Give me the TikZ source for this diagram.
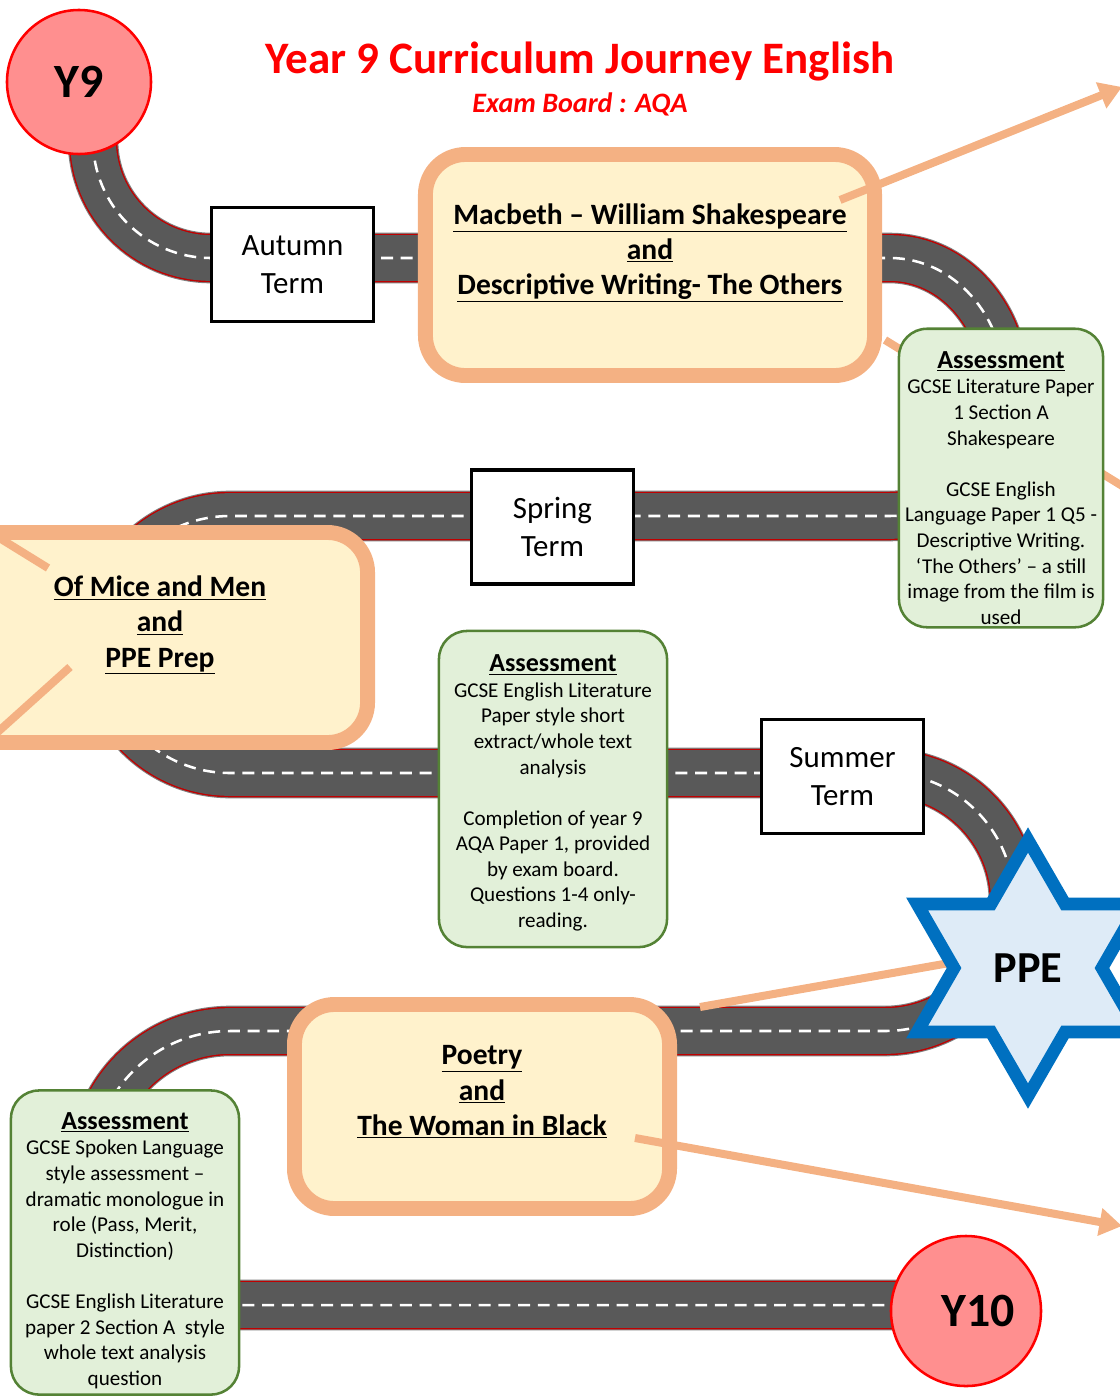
\documentclass[tikz,border=0pt]{standalone}
\usepackage{fontspec}
\setmainfont{Carlito}
\usetikzlibrary{arrows.meta,shapes.geometric}

\definecolor{roadgrey}{HTML}{595959}
\definecolor{roadred}{HTML}{C00000}
\definecolor{peach}{HTML}{F4B183}
\definecolor{cream}{HTML}{FFF2CC}
\definecolor{leafgreen}{HTML}{548235}
\definecolor{mint}{HTML}{E2F0D9}
\definecolor{ppeblue}{HTML}{0070C0}
\definecolor{ppesky}{HTML}{DEEBF7}
\definecolor{yearpink}{HTML}{FF8F8F}

% heading of an assessment box, #1 = strut height (moves the text down)
\newcommand{\assesshead}[1]{\rule{0pt}{#1}{\fontsize{18.5}{22}\selectfont\bfseries\underline{Assessment}}}

\tikzset{
  road/.style={draw=roadgrey, line width=32.5pt,
    preaction={draw=gray, line width=36pt},
    preaction={draw=roadred, line width=34.5pt},
    postaction={draw=white, line width=1.8pt, dash pattern=on 8.5pt off 5.5pt}},
  termbox/.style={draw=black, line width=2.6pt, fill=white, align=center,
    minimum width=4.05cm, minimum height=2.85cm, font=\fontsize{22}{27}\selectfont},
  topicbox/.style={draw=peach, line width=10.6pt, fill=cream, rounded corners=1cm,
    align=center, font=\fontsize{21}{25}\selectfont\bfseries, text depth=0.8cm},
  assessbox/.style={draw=leafgreen, line width=1.8pt, fill=mint, rounded corners=0.7cm,
    align=center, font=\fontsize{15}{18.2}\selectfont, inner sep=2pt},
  yearball/.style={circle, draw=red, line width=1.8pt, fill=yearpink,
    font=\fontsize{34}{40}\selectfont\bfseries},
  linkarrow/.style={draw=peach, line width=5.7pt},
}

\begin{document}
\begin{tikzpicture}[x=0.025cm, y=0.025cm]
\useasboundingbox (0,0) rectangle (1120,-1397);
\clip (0,0) rectangle (1120,-1397);

% the road
\draw[road] (93,-82) -- (93,-140) arc[start angle=180, end angle=270, radius=118]
  -- (890,-258) arc[start angle=90, end angle=-90, x radius=115, y radius=129]
  -- (230,-516) arc[start angle=90, end angle=270, radius=128.5]
  -- (885,-773) arc[start angle=90, end angle=-90, radius=129]
  -- (230,-1031) arc[start angle=90, end angle=270, radius=137]
  -- (966,-1305);

% free ends of the links
\coordinate (mbFrom) at (840,-200);
\coordinate (mbTo) at (1122,-87);
\coordinate (mbLow) at (885,-340);
\coordinate (mbOut) at (1145,-500);
\coordinate (omA) at (-20,-526);
\coordinate (omB) at (48,-568);
\coordinate (omC) at (-20,-748);
\coordinate (omD) at (70,-667);
\coordinate (poA) at (700,-1007);
\coordinate (poB) at (955,-962);
\coordinate (poFrom) at (635,-1138);
\coordinate (poTo) at (1122,-1226);

% links behind the boxes
\draw[linkarrow] (mbLow) -- (mbOut);
\draw[linkarrow] (poA) -- (poB);

% title
\node[text=red, font=\fontsize{32}{38}\selectfont\bfseries] (title) at (580,-62)
  {Year 9 Curriculum Journey English};
\node[text=red, font=\fontsize{20}{24}\selectfont\bfseries\itshape] (board) at (580,-104)
  {Exam Board : AQA};

% terms
\node[termbox] (autumn) at (292.5,-264.5) {Autumn\\Term};
\node[termbox] (spring) at (552.5,-527) {Spring\\Term};
\node[termbox] (summer) at (842.5,-776.5) {Summer\\Term};

% topics
\node[topicbox, minimum width=11.225cm, minimum height=5.525cm] (macbeth) at (650,-265)
  {\underline{Macbeth – William Shakespeare}\\\underline{and}\\\underline{Descriptive Writing- The Others}};
\node[topicbox, minimum width=10.375cm, minimum height=5.25cm] (mice) at (160,-637.5)
  {\underline{Of Mice and Men}\\\underline{and}\\\underline{PPE Prep}};
\node[topicbox, minimum width=9.375cm, minimum height=5.1cm] (poetry) at (482,-1106.5)
  {\underline{Poetry}\\\underline{and}\\\underline{The Woman in Black}};

% assessments
\node[assessbox, minimum width=5.1cm, minimum height=7.35cm] (assessA) at (1001,-478)
  {\assesshead{0.92cm}\\GCSE Literature Paper\\1 Section A\\Shakespeare\\[18.2pt]GCSE English\\Language Paper 1 Q5 -\\Descriptive Writing.\\‘The Others’ – a still\\image from the film is\\used};
\node[assessbox, minimum width=5.7cm, minimum height=7.9cm] (assessB) at (553,-789)
  {\assesshead{0.62cm}\\GCSE English Literature\\Paper style short\\extract/whole text\\analysis\\[18.2pt]Completion of year 9\\AQA Paper 1, provided\\by exam board.\\Questions 1-4 only-\\reading.};
\node[assessbox, minimum width=5.7cm, minimum height=7.6cm] (assessC) at (125,-1242.5)
  {\assesshead{0.82cm}\\GCSE Spoken Language\\style assessment –\\dramatic monologue in\\role (Pass, Merit,\\Distinction)\\[18.2pt]GCSE English Literature\\paper 2 Section A\ \ style\\whole text analysis\\question};

% PPE star
\node[star, star points=6, star point ratio=1.732, minimum size=6.4cm, inner sep=0pt,
  draw=ppeblue, line width=9pt, fill=ppesky, font=\fontsize{31.5}{36}\selectfont\bfseries]
  (ppe) at (1028,-968) {PPE};

% start and finish
\node[yearball, minimum size=3.6cm] (yNine) at (79,-82) {Y9};
\node[yearball, minimum size=3.75cm] (yTen) at (966,-1311) {\hspace*{0.6cm}Y10};

% links on top
\draw[linkarrow, -{Triangle[length=16pt, width=19pt]}] (mbFrom) -- (mbTo);
\draw[linkarrow] (omA) -- (omB);
\draw[linkarrow] (omC) -- (omD);
\draw[linkarrow, -{Triangle[length=16pt, width=19pt]}] (poFrom) -- (poTo);

\end{tikzpicture}
\end{document}
